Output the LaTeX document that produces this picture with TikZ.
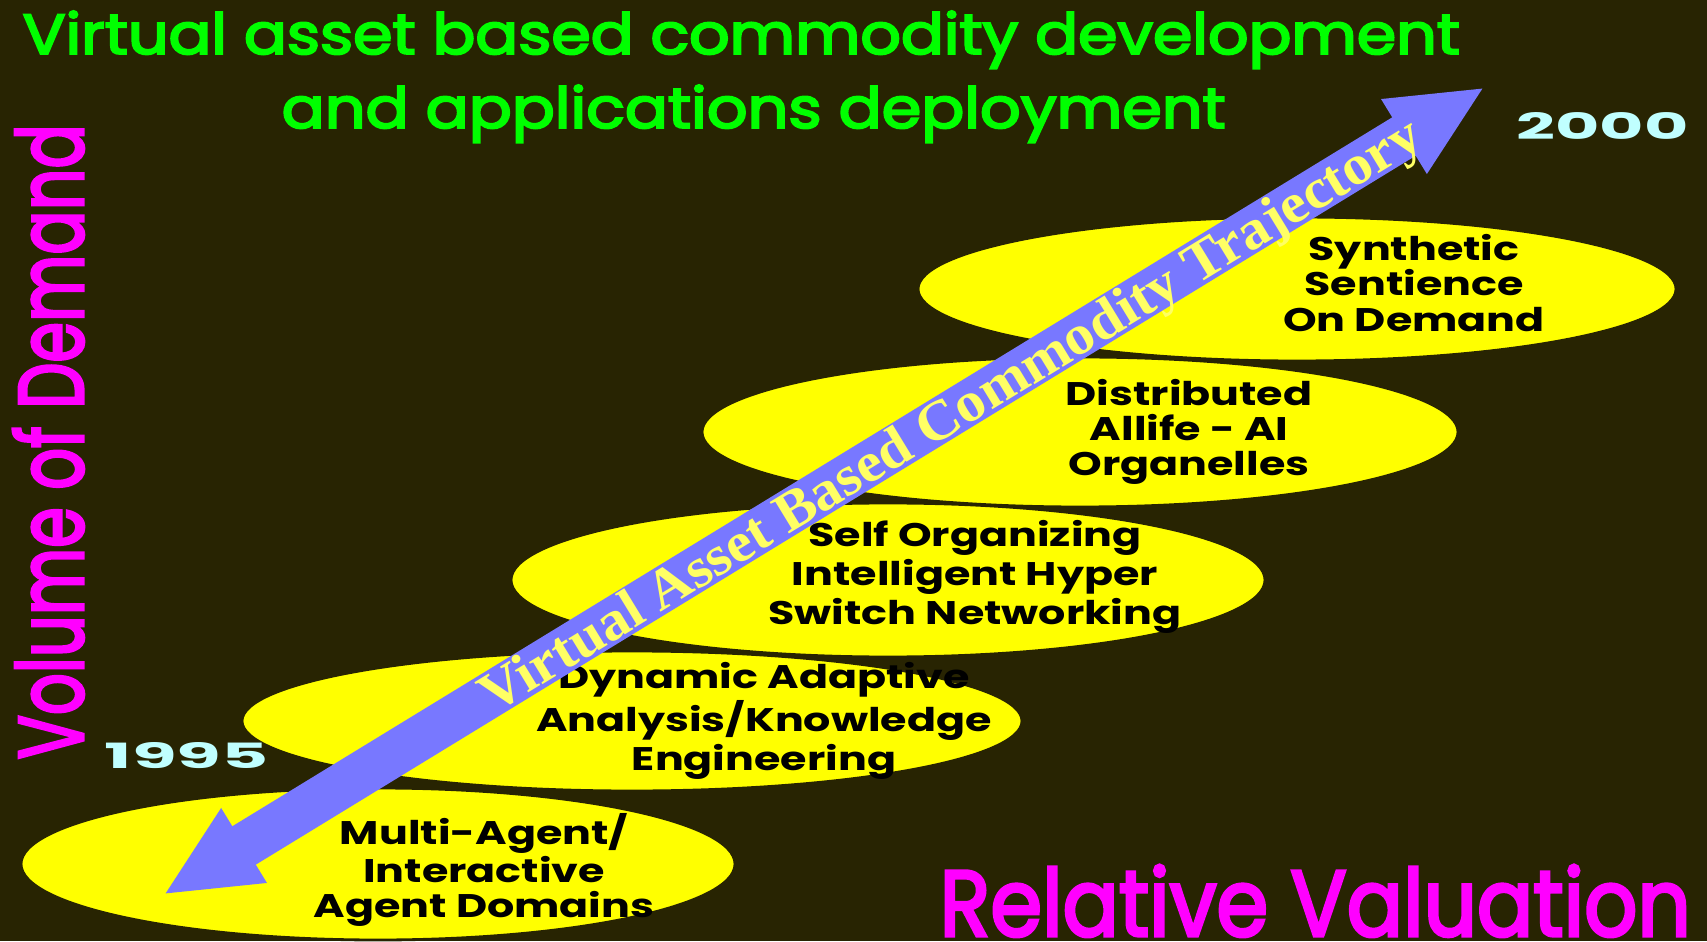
\documentclass[tikz,border=0pt]{standalone}
\usepackage{fontspec}
\setmainfont{Poppins}
\newfontfamily\headfont{Poppins}[FakeBold=3.5]
\newfontfamily\trajfont{Liberation Serif}
\usetikzlibrary{arrows.meta,shapes.geometric}

\definecolor{bgolive}{RGB}{40,36,2}
\definecolor{titlegreen}{RGB}{0,255,0}
\definecolor{axismagenta}{RGB}{255,0,255}
\definecolor{blobyellow}{RGB}{255,255,0}
\definecolor{trajblue}{RGB}{120,120,255}
\definecolor{trajyellow}{RGB}{255,255,100}
\definecolor{yearcyan}{RGB}{192,255,255}

\begin{document}
\begin{tikzpicture}[
    blob/.style={ellipse, fill=blobyellow, draw=bgolive, line width=0.8pt, inner sep=0pt},
    blobtext/.style={align=center, text=black, xscale=1.31,
        font=\bfseries\fontsize{9.3}{10}\selectfont},
    year/.style={text=yearcyan, font=\bfseries, inner sep=0pt, anchor=base west},
    axis/.style={text=axismagenta, font=\headfont, inner sep=0pt, anchor=base west},
    traj/.style={trajblue, line width=0.45cm,
        {Triangle[width=0.8cm,length=0.95cm]}-{Triangle[width=0.8cm,length=0.95cm]}},
]
    % Fondo
    \useasboundingbox (0,0) rectangle (17.07,9.41);
    \fill[bgolive] (0,0) rectangle (17.07,9.41);

    % Titulo y ejes
    \node[axis, text=titlegreen] (title1) at (0.22,8.87)
        {\resizebox{14.37cm}{0.43cm}{Virtual asset based commodity development}};
    \node[axis, text=titlegreen] (title2) at (2.81,8.13)
        {\resizebox{9.44cm}{0.43cm}{and applications deployment}};
    \node[axis] (xlabel) at (9.39,0.05) {\resizebox{7.51cm}{0.71cm}{Relative Valuation}};
    \node[axis, rotate=90] (ylabel) at (0.83,1.81) {\resizebox{6.35cm}{0.70cm}{Volume of Demand}};

    % Elipses
    \node[blob, minimum width=7.14cm, minimum height=1.52cm] (multiagent) at (3.78,0.77) {};
    \node[blob, minimum width=7.80cm, minimum height=1.40cm] (dynamic)    at (6.32,2.20) {};
    \node[blob, minimum width=7.54cm, minimum height=1.54cm] (selforg)    at (8.88,3.61) {};
    \node[blob, minimum width=7.56cm, minimum height=1.50cm] (alife)      at (10.80,5.09) {};
    \node[blob, minimum width=7.58cm, minimum height=1.44cm] (synthetic)  at (12.97,6.52) {};

    \node[blobtext] (multiagentTxt) at ([xshift=1.06cm,yshift=-0.06cm]multiagent.center)
        {Multi-Agent/\\Interactive\\Agent Domains};
    \node[blobtext] (dynamicTxt) at ([xshift=1.32cm]dynamic.center)
        {Dynamic Adaptive\\Analysis/Knowledge\\Engineering};
    \node[blobtext] (selforgTxt) at ([xshift=0.87cm,yshift=0.03cm]selforg.center)
        {Self Organizing\\Intelligent Hyper\\Switch Networking};
    \node[blobtext] (alifeTxt) at ([xshift=1.09cm]alife.center)
        {Distributed\\Allife - AI\\Organelles};
    \node[blobtext] (syntheticTxt) at ([xshift=1.17cm,yshift=0.06cm]synthetic.center)
        {Synthetic\\Sentience\\On Demand};

    % Flecha de trayectoria
    \coordinate (start95) at (1.63,0.46);
    \coordinate (end00) at (14.85,8.54);
    \draw[traj] (start95) -- (end00)
        node[pos=0.595, sloped, xscale=1.05, inner sep=0pt, text height=10.6pt, text depth=0pt,
            text=trajyellow, font=\trajfont\bfseries\fontsize{16}{16}\selectfont]
        (trajTxt) {Virtual Asset Based Commodity Trajectory};

    % Anos
    \node[year] (yr1995) at (1.04,1.73) {\resizebox{1.64cm}{0.26cm}{1995}};
    \node[year] (yr2000) at (15.16,8.01) {\resizebox{1.72cm}{0.27cm}{2000}};
\end{tikzpicture}
\end{document}
